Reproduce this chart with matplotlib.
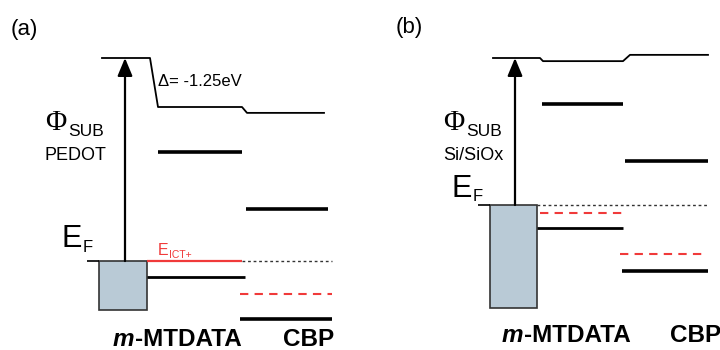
import matplotlib.pyplot as plt
from matplotlib.patches import Rectangle

plt.rcParams['font.family'] = ['Liberation Sans', 'DejaVu Sans']

# energies in eV, relative to the substrate vacuum level
# (a) PEDOT substrate
vac_a = [0.0, 0.0, -1.25, -1.25, -1.40, -1.40]
ef_a = -5.18
mtdata_a = [-2.40, -5.59]      # LUMO, HOMO
cbp_a = [-3.85, -6.66]         # LUMO, HOMO
cbp_ict_a = -6.02
box_bottom_a = -6.43
delta_label = "\u0394= -1.25eV"

# (b) Si/SiOx substrate
vac_b = [0.0, 0.0, -0.08, -0.08, 0.08, 0.08]
ef_b = -3.75
mtdata_b = [-1.17, -4.34]
cbp_b = [-2.63, -5.43]
ict_b = [-3.95, -5.00]         # m-MTDATA, CBP
box_bottom_b = -6.38

px_per_ev = 39.2
BOX_COL = '#b9cad6'
RED = '#f03a3a'

fig = plt.figure(figsize=(7.2, 3.5), dpi=100)
ax = fig.add_axes([0, 0, 1, 1])
ax.set_xlim(0, 720)
ax.set_ylim(-292 / px_per_ev, 58 / px_per_ev)
ax.axis('off')


def ypx(y):
    # label positions given in pixel rows from the top
    return -(y - 58) / px_per_ev


def hline(x0, x1, y, **kw):
    kw.setdefault('color', 'black')
    kw.setdefault('solid_capstyle', 'butt')
    ax.plot([x0, x1], [y, y], **kw)


def arrow(x, y0, y1):
    ax.annotate('', xy=(x, y1), xytext=(x, y0),
                arrowprops=dict(arrowstyle='-|>,head_length=0.6,head_width=0.25',
                                mutation_scale=18, lw=1.6, color='black',
                                shrinkA=0, shrinkB=0))


def phi_label(x, y, sub):
    ax.text(x, y, '\u03a6', family='Liberation Serif', fontsize=21,
            ha='left', va='center')
    ax.text(x + 23, y - 0.22, 'SUB', fontsize=12.5, ha='left', va='center')
    ax.text(x, y - 0.84, sub, fontsize=13, ha='left', va='center')


def ef_label(x, y):
    ax.text(x, y, 'E', fontsize=22, ha='left', va='center')
    ax.text(x + 21, y - 0.2, 'F', fontsize=12, ha='left', va='center')


def mol_labels(x_m, x_c, y):
    t = ax.text(x_m, y, 'm', fontsize=17.5, weight='bold', style='italic',
                ha='left', va='center')
    ax.annotate('-MTDATA', xy=(1, 0), xycoords=t, fontsize=17.5, weight='bold',
                ha='left', va='bottom')
    ax.text(x_c, y, 'CBP', fontsize=17.5, weight='bold', ha='left', va='center')


# ---- (a) ----
ax.text(24, ypx(29), '(a)', fontsize=16, ha='center', va='center')
ax.plot([102, 150, 158, 242, 247, 324], vac_a, color='black', lw=1.3)
ax.text(158, ypx(82), delta_label, fontsize=12, ha='left', va='center')
phi_label(45, ypx(123), 'PEDOT')
ef_label(62, ef_a + 0.55)

ax.add_patch(Rectangle((99, box_bottom_a), 48, ef_a - box_bottom_a,
                       facecolor=BOX_COL, edgecolor='#333333', lw=1.2))
hline(87, 99, ef_a, lw=1.2)
arrow(125, ef_a, vac_a[0])
hline(147, 242, ef_a, color=RED, lw=1.6)
ax.text(157.5, ef_a + 0.28, 'E', color=RED, fontsize=11.5, ha='left', va='center')
ax.text(169.5, ef_a + 0.16, 'ICT+', color=RED, fontsize=7.5, ha='left', va='center')
hline(242, 332, ef_a, color='#333333', lw=1.0, ls=(0, (2, 2)))

hline(158, 242, mtdata_a[0], lw=2.6)
hline(147, 245, mtdata_a[1], lw=2.0)
hline(246, 328, cbp_a[0], lw=2.6)
hline(240, 332, cbp_ict_a, color=RED, lw=1.5, ls=(0, (4, 3)))
hline(240, 332, cbp_a[1], lw=2.6)
mol_labels(113, 283, ypx(340))

# ---- (b) ----
ax.text(409, ypx(27), '(b)', fontsize=16, ha='center', va='center')
ax.plot([493, 540, 543, 623, 630, 708], vac_b, color='black', lw=1.3)
phi_label(443, ypx(123), 'Si/SiOx')
ef_label(452, ef_b + 0.42)

ax.add_patch(Rectangle((490, box_bottom_b), 47, ef_b - box_bottom_b,
                       facecolor=BOX_COL, edgecolor='#333333', lw=1.2))
hline(478, 490, ef_b, lw=1.2)
arrow(515, ef_b, vac_b[0])
hline(537, 708, ef_b, color='#333333', lw=1.0, ls=(0, (2, 2)))
hline(540, 623, ict_b[0], color=RED, lw=1.5, ls=(0, (4, 3)))
hline(537, 623, mtdata_b[1], lw=2.0)
hline(542, 623, mtdata_b[0], lw=2.6)
hline(625, 708, cbp_b[0], lw=2.6)
hline(620, 702, ict_b[1], color=RED, lw=1.5, ls=(0, (4, 3)))
hline(622, 708, cbp_b[1], lw=2.6)
mol_labels(502, 670, ypx(335))

fig.savefig('out.png', dpi=100)
